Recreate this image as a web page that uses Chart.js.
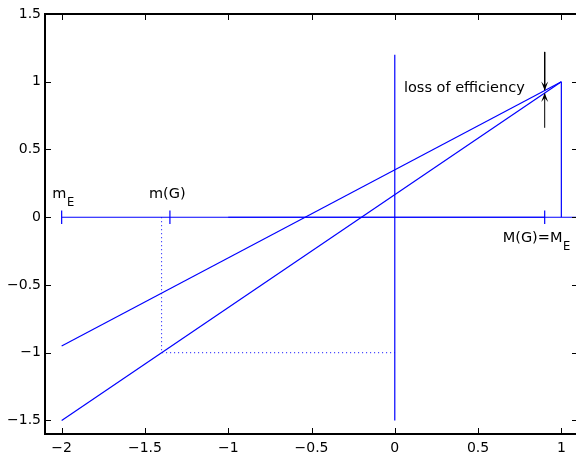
<!DOCTYPE html>
<html>
<head>
<meta charset="utf-8">
<script src="https://cdn.jsdelivr.net/npm/chart.js@4.4.1/dist/chart.umd.min.js"></script>
<style>
  html, body { margin: 0; padding: 0; background: #fff; overflow: hidden; }
  #wrap { width: 580px; height: 454px; }
</style>
</head>
<body>
<div id="wrap"><canvas id="c" width="580" height="454"></canvas></div>
<script>
// axis ticks
const xTicks = [-2, -1.5, -1, -0.5, 0, 0.5, 1];
const yTicks = [-1.5, -1, -0.5, 0, 0.5, 1, 1.5];

// the two efficiency lines, both ending at (1, 1)
const lineA = [[-2, -0.95], [1, 1]];
const lineB = [[-2, -1.5], [1, 1]];
const edgeAtOne = [[1, 0], [1, 1]];
const yAxisLine = [[0, -1.5], [0, 1.2]];
// interval lines on y = 0
const rangeE = [[-2, 0], [0.9, 0]];
const rangeG = [[-1, 0], [1.1, 0]];
// small vertical markers
const markE = [[-2, -0.05], [-2, 0.05]];
const markG = [[-1.35, -0.05], [-1.35, 0.05]];
const markM = [[0.9, -0.05], [0.9, 0.05]];
// dotted guide
const guide = [[-1.4, 0], [-1.4, -1], [0, -1]];
// arrows (from, to)
const arrowDown = [[0.9, 1.22], [0.9, 0.935]];
const arrowUp = [[0.9, 0.66], [0.9, 0.917]];

// text labels: [main, subscript, x, y]
const labels = [
  ["loss of efficiency", "", 0.055, 0.924],
  ["m", "E", -2.056, 0.142],
  ["m(G)", "", -1.476, 0.142],
  ["M(G)=M", "E", 0.648, -0.184]
];

const blue = "#0000ff";
const pts = arr => arr.map(p => ({ x: p[0], y: p[1] }));
function ds(arr, color, dash, width) {
  return {
    data: pts(arr),
    showLine: true,
    borderColor: color,
    borderWidth: width || 1.2,
    borderDash: dash || [],
    pointRadius: 0,
    fill: false
  };
}

const fmt = v => (v < 0 ? "\u2212" + Math.abs(v) : String(v));

const matlabBox = {
  id: "matlabBox",
  afterDraw(chart) {
    const { ctx, chartArea: a, scales: { x, y } } = chart;
    const L = Math.round(a.left), R = Math.round(a.right);
    const T = Math.round(a.top), B = Math.round(a.bottom);
    ctx.save();
    ctx.strokeStyle = "#000";
    ctx.lineWidth = 2;
    ctx.beginPath();
    ctx.rect(L, T, R - L, B - T);
    ctx.stroke();
    // inward ticks
    ctx.lineWidth = 1;
    ctx.beginPath();
    xTicks.forEach(v => {
      const px = Math.round(x.getPixelForValue(v)) + 0.5;
      ctx.moveTo(px, B); ctx.lineTo(px, B - 6);
      ctx.moveTo(px, T); ctx.lineTo(px, T + 6);
    });
    yTicks.forEach(v => {
      const py = Math.round(y.getPixelForValue(v)) + 0.5;
      ctx.moveTo(L, py); ctx.lineTo(L + 6, py);
      ctx.moveTo(R, py); ctx.lineTo(R - 6, py);
    });
    ctx.stroke();

    // arrow heads
    ctx.fillStyle = "#000";
    [arrowDown, arrowUp].forEach(ar => {
      const tx = x.getPixelForValue(ar[1][0]);
      const ty = y.getPixelForValue(ar[1][1]);
      const fy = y.getPixelForValue(ar[0][1]);
      const dir = ty > fy ? 1 : -1;
      ctx.beginPath();
      ctx.moveTo(tx - 3.5, ty - dir * 9);
      ctx.lineTo(tx, ty - dir * 5);
      ctx.lineTo(tx + 3.5, ty - dir * 9);
      ctx.lineTo(tx, ty);
      ctx.closePath();
      ctx.fill();
    });

    // labels
    ctx.fillStyle = "#000";
    ctx.textBaseline = "alphabetic";
    ctx.textAlign = "left";
    labels.forEach(l => {
      const px = x.getPixelForValue(l[2]);
      const py = y.getPixelForValue(l[3]);
      ctx.font = "14.5px 'DejaVu Sans'";
      ctx.fillText(l[0], px, py);
      if (l[1]) {
        const w = ctx.measureText(l[0]).width;
        ctx.font = "11.5px 'DejaVu Sans'";
        ctx.fillText(l[1], px + w + 0.5, py + 8);
      }
    });
    ctx.restore();
  }
};

new Chart(document.getElementById("c"), {
  type: "scatter",
  data: {
    datasets: [
      ds(lineA, blue), ds(lineB, blue), ds(edgeAtOne, blue), ds(yAxisLine, blue),
      ds(rangeE, blue), ds(rangeG, blue),
      ds(markE, blue), ds(markG, blue), ds(markM, blue),
      ds(guide, blue, [1, 3], 1),
      ds(arrowDown, "#000", null, 1), ds(arrowUp, "#000", null, 1)
    ]
  },
  options: {
    responsive: false,
    animation: false,
    layout: { padding: { top: 14, right: 2, left: 0, bottom: 0 } },
    plugins: { legend: { display: false }, tooltip: { enabled: false } },
    scales: {
      x: {
        type: "linear",
        min: -2.1,
        max: 1.1,
        afterBuildTicks: s => { s.ticks = xTicks.map(v => ({ value: v })); },
        afterFit: s => { s.height = 20; },
        grid: { display: false, drawTicks: false },
        border: { display: false },
        ticks: {
          color: "#000",
          padding: 6,
          maxRotation: 0,
          autoSkip: false,
          font: { family: "'DejaVu Sans'", size: 14 },
          callback: v => fmt(v)
        }
      },
      y: {
        type: "linear",
        min: -1.6,
        max: 1.5,
        afterBuildTicks: s => { s.ticks = yTicks.map(v => ({ value: v })); },
        afterFit: s => { s.width = 45; },
        grid: { display: false, drawTicks: false },
        border: { display: false },
        ticks: {
          color: "#000",
          padding: 4,
          autoSkip: false,
          font: { family: "'DejaVu Sans'", size: 14 },
          callback: v => fmt(v)
        }
      }
    }
  },
  plugins: [matlabBox]
});
</script>
</body>
</html>
